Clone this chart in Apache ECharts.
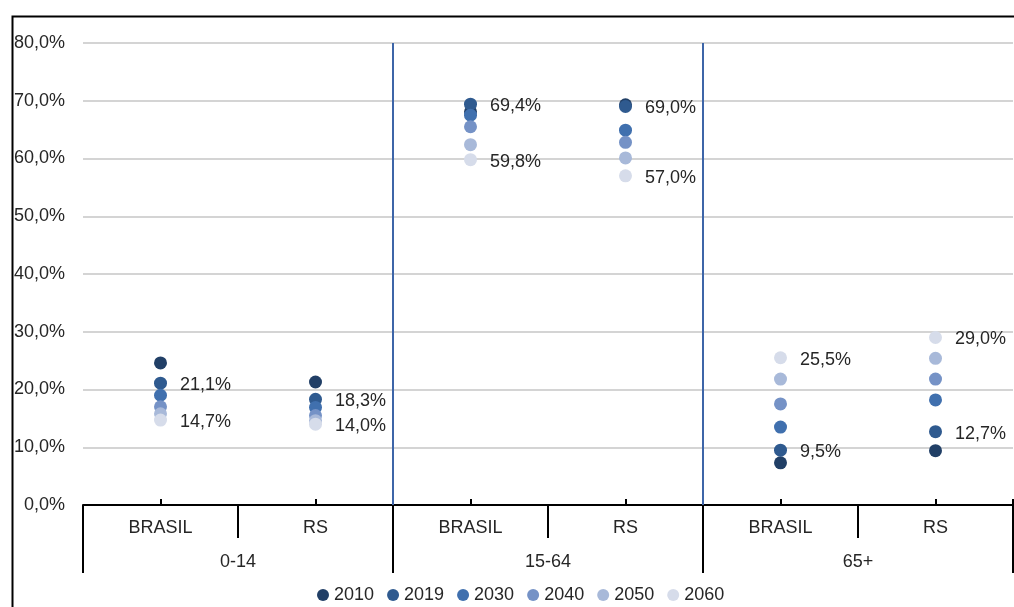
<!DOCTYPE html>
<html>
<head>
<meta charset="utf-8">
<script src="https://cdn.jsdelivr.net/npm/echarts@6/dist/echarts.min.js"></script>
<style>
  html, body { margin: 0; padding: 0; background: #fff; }
  #chart { width: 1014px; height: 607px; }
</style>
</head>
<body>
<div id="chart"></div>
<script>
// Regions shown on the lower axis level and age groups on the upper level
const regions = ['BRASIL', 'RS', 'BRASIL', 'RS', 'BRASIL', 'RS'];
const ageGroups = ['0-14', '15-64', '65+'];
const years = ['2010', '2019', '2030', '2040', '2050', '2060'];

// Share of population (%) per year, in the order: 0-14 BR, 0-14 RS, 15-64 BR, 15-64 RS, 65+ BR, 65+ RS
const v2010 = [24.6, 21.3, 68.1, 69.3, 7.3, 9.4];
const v2019 = [21.1, 18.3, 69.4, 69.0, 9.5, 12.7];
const v2030 = [19.0, 16.9, 67.5, 64.9, 13.5, 18.2];
const v2040 = [17.0, 15.5, 65.5, 62.8, 17.5, 21.8];
const v2050 = [15.8, 14.6, 62.4, 60.1, 21.8, 25.4];
const v2060 = [14.7, 14.0, 59.8, 57.0, 25.5, 29.0];

// Positions (in category units) of the separators between age groups
const groupBreaks = [2, 4];

const colors = ['#213f66', '#2f5a8f', '#4070ae', '#7592c6', '#a8b9d9', '#d6dcea'];
const labelled = ['2019', '2060'];

const FONT = 'Liberation Sans, Arial, sans-serif';
const FS = 18;
const TXT = '#262626';
const pct = v => v.toFixed(1).replace('.', ',') + '%';

const values = [v2010, v2019, v2030, v2040, v2050, v2060];

const series = years.map((y, i) => ({
  name: y,
  type: 'scatter',
  xAxisIndex: 0,
  yAxisIndex: 0,
  symbol: 'circle',
  symbolSize: 13,
  itemStyle: { color: colors[i], opacity: 1 },
  label: {
    show: labelled.includes(y),
    position: 'right',
    distance: 13,
    offset: [0, 2],
    color: TXT,
    fontFamily: FONT,
    fontSize: FS,
    formatter: p => pct(p.value)
  },
  emphasis: { disabled: true },
  data: values[i]
}));

// Vertical separators between the age groups, placed on a hidden linear axis
series.push({
  name: 'separators',
  type: 'line',
  xAxisIndex: 3,
  yAxisIndex: 0,
  data: [],
  silent: true,
  markLine: {
    silent: true,
    symbol: 'none',
    label: { show: false },
    lineStyle: { color: '#3d65a8', width: 2, type: 'solid' },
    emphasis: { disabled: true },
    data: groupBreaks.map(b => ({ xAxis: b }))
  }
});

const chart = echarts.init(document.getElementById('chart'), null, { renderer: 'canvas' });
chart.setOption({
  animation: false,
  backgroundColor: '#fff',
  grid: { left: 83, right: 1, top: 43, bottom: 102, containLabel: false },
  legend: {
    bottom: -2,
    left: 312,
    icon: 'circle',
    itemWidth: 12,
    itemHeight: 12,
    itemGap: 13,
    textStyle: { color: TXT, fontFamily: FONT, fontSize: FS },
    data: years
  },
  xAxis: [
    {
      type: 'category',
      data: regions,
      position: 'bottom',
      boundaryGap: true,
      axisLine: { show: true, lineStyle: { color: '#000', width: 2 } },
      axisTick: { show: true, interval: 0, length: 33, lineStyle: { color: '#000', width: 2 } },
      axisLabel: { interval: 0, margin: 14, color: TXT, fontFamily: FONT, fontSize: FS },
      splitLine: { show: false }
    },
    {
      type: 'category',
      data: ageGroups,
      position: 'bottom',
      boundaryGap: true,
      axisLine: { show: false },
      axisTick: { show: true, interval: 0, length: 68, lineStyle: { color: '#000', width: 2 } },
      axisLabel: { interval: 0, margin: 48, color: TXT, fontFamily: FONT, fontSize: FS },
      splitLine: { show: false }
    },
    {
      type: 'category',
      data: ['', '', '', '', '', '', '', '', '', '', '', ''],
      position: 'bottom',
      boundaryGap: true,
      axisLine: { show: false },
      axisTick: { show: true, inside: true, length: 6, interval: (i) => i % 2 === 1, lineStyle: { color: '#000', width: 2 } },
      axisLabel: { show: false },
      splitLine: { show: false }
    },
    {
      type: 'value',
      min: 0,
      max: regions.length,
      show: false
    }
  ],
  yAxis: {
    type: 'value',
    min: 0,
    max: 80,
    interval: 10,
    axisLine: { show: false },
    axisTick: { show: false },
    axisLabel: { margin: 18, color: TXT, fontFamily: FONT, fontSize: FS, formatter: pct },
    splitLine: { show: true, lineStyle: { color: '#d4d4d4', width: 2 } }
  },
  graphic: [
    {
      type: 'rect',
      left: 10, top: 14,
      shape: { width: 1100, height: 700 },
      style: { fill: null, stroke: '#000', lineWidth: 2 },
      silent: true,
      z: 100
    }
  ],
  series: series
});
</script>
</body>
</html>
